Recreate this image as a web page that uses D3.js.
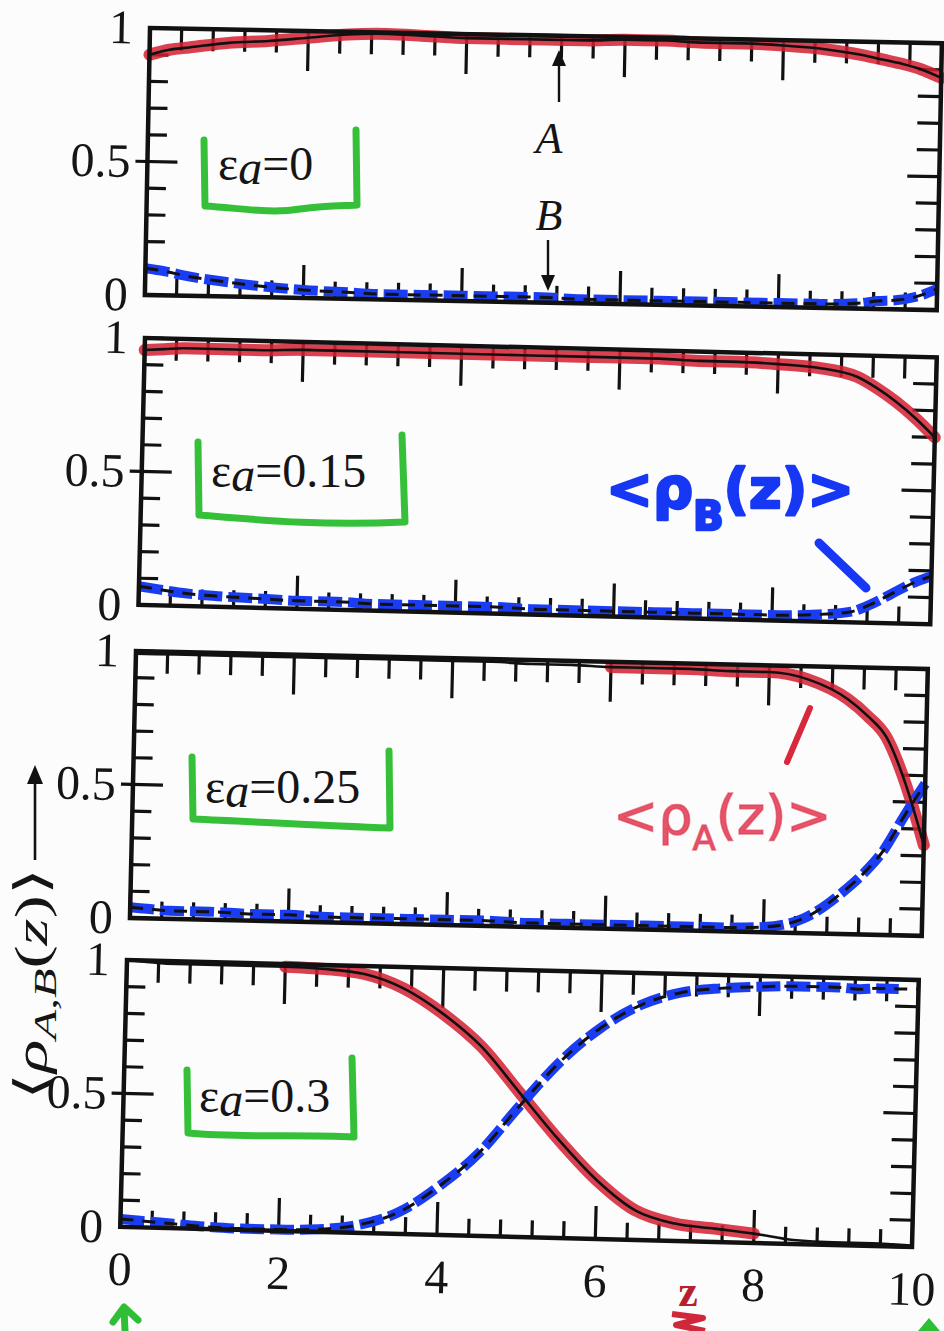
<!DOCTYPE html>
<html>
<head>
<meta charset="utf-8">
<script src="https://cdn.jsdelivr.net/npm/d3@7"></script>
<style>
body { margin: 0; background: #fcfcfd; }
svg { display: block; }
</style>
</head>
<body>
<svg></svg>
<script>
var width = 944, height = 1331;

var zs = [0, 0.25, 0.5, 1, 1.5, 2, 2.5, 3, 3.5, 4, 4.5, 5, 5.5, 6, 6.5, 7, 7.5, 8, 8.5, 9, 9.25, 9.5, 9.75, 10];

// <rho_A(z)> and <rho_B(z)> for each eps_a
var rhoA_0    = [0.90, 0.92, 0.93, 0.95, 0.96, 0.975, 0.99, 0.995, 0.99, 0.985, 0.985, 0.985, 0.985, 0.99, 0.99, 0.985, 0.985, 0.98, 0.97, 0.95, 0.935, 0.92, 0.90, 0.87];
var rhoB_0    = [0.10, 0.09, 0.075, 0.055, 0.04, 0.03, 0.025, 0.02, 0.02, 0.02, 0.02, 0.02, 0.015, 0.015, 0.015, 0.015, 0.015, 0.015, 0.015, 0.02, 0.03, 0.035, 0.05, 0.08];
var rhoA_015  = [0.955, 0.96, 0.965, 0.965, 0.965, 0.97, 0.97, 0.97, 0.97, 0.97, 0.97, 0.97, 0.97, 0.97, 0.97, 0.965, 0.965, 0.96, 0.95, 0.92, 0.88, 0.83, 0.77, 0.70];
var rhoB_015  = [0.07, 0.06, 0.05, 0.04, 0.035, 0.03, 0.03, 0.025, 0.025, 0.025, 0.025, 0.02, 0.02, 0.02, 0.02, 0.02, 0.02, 0.02, 0.025, 0.04, 0.07, 0.11, 0.15, 0.18];
var rhoA_025  = [0.99, 0.99, 0.99, 0.99, 0.99, 0.99, 0.99, 0.99, 0.99, 0.99, 0.99, 0.985, 0.985, 0.98, 0.98, 0.98, 0.975, 0.975, 0.95, 0.88, 0.82, 0.74, 0.57, 0.34];
var rhoB_025  = [0.04, 0.035, 0.03, 0.03, 0.025, 0.025, 0.02, 0.02, 0.02, 0.02, 0.02, 0.015, 0.015, 0.015, 0.015, 0.015, 0.015, 0.02, 0.055, 0.16, 0.23, 0.32, 0.45, 0.57];
var rhoA_03   = [1.0, 0.995, 0.99, 0.99, 0.99, 0.99, 0.985, 0.97, 0.92, 0.83, 0.71, 0.54, 0.37, 0.22, 0.11, 0.065, 0.05, 0.035, 0.015, 0.01, 0.01, 0.01, 0.008, 0.005];
var rhoB_03   = [0.03, 0.025, 0.02, 0.01, 0.005, 0.005, 0.01, 0.03, 0.08, 0.18, 0.31, 0.49, 0.66, 0.79, 0.88, 0.93, 0.95, 0.96, 0.965, 0.965, 0.96, 0.965, 0.965, 0.965];

var epsLabels = ["0", "0.15", "0.25", "0.3"];
var xTickLabels = [0, 2, 4, 6, 8, 10];
var yTickLabels = [0, 0.5, 1];

// z range covered by the coloured (marker) traces
var redStart = [0, 0, 6, 2];
var redEnd = [10, 10, 10, 8];
var blueEnd = [10, 10, 10, 9.75];

// page layout of the four scanned panels (slightly tilted)
var panels = [
	{ a: rhoA_0,   b: rhoB_0,   x: 150, y: 28,  rot: 1.1 },
	{ a: rhoA_015, b: rhoB_015, x: 145, y: 338, rot: 1.4 },
	{ a: rhoA_025, b: rhoB_025, x: 136, y: 651, rot: 1.3 },
	{ a: rhoA_03,  b: rhoB_03,  x: 127, y: 960, rot: 1.45 }
];
var pw = 792, ph = 267;
var serif = "Liberation Serif, Times New Roman, serif";

var svg = d3.select("svg").attr("width", width).attr("height", height)
	.attr("font-family", serif);
svg.append("rect").attr("width", width).attr("height", height).attr("fill", "#fcfcfd");

var xScale = d3.scaleLinear().domain([0, 10]).range([0, pw]);
var yScale = d3.scaleLinear().domain([0, 1]).range([ph, 0]);

var xTicks = d3.range(0, 10.001, 0.4);
var yTicks = d3.range(0, 1.001, 0.1);
var isMajorX = function (v) { return Math.abs(v / 2 - Math.round(v / 2)) < 1e-6; };
var isMajorY = function (v) { return Math.abs(v - 0.5) < 1e-6; };

var line = d3.line()
	.x(function (d) { return xScale(d.z); })
	.y(function (d) { return yScale(d.v); })
	.curve(d3.curveMonotoneX);

panels.forEach(function (p, i) {
	var g = svg.append("g").attr("transform", "translate(" + p.x + "," + p.y + ") rotate(" + p.rot + ")");

	// inward ticks on all four sides
	xTicks.forEach(function (v) {
		var m = isMajorX(v);
		g.append("line").attr("x1", xScale(v)).attr("x2", xScale(v))
			.attr("y1", 0).attr("y2", m ? 40 : 22)
			.attr("stroke", "#111").attr("stroke-width", 3.2);
		g.append("line").attr("x1", xScale(v)).attr("x2", xScale(v))
			.attr("y1", ph).attr("y2", ph - (m ? 33 : 17))
			.attr("stroke", "#111").attr("stroke-width", 3.2);
	});
	yTicks.forEach(function (v) {
		var m = isMajorY(v);
		g.append("line").attr("x1", m ? -12 : 0).attr("x2", m ? 30 : 19)
			.attr("y1", yScale(v)).attr("y2", yScale(v))
			.attr("stroke", "#111").attr("stroke-width", 3.2);
		g.append("line").attr("x1", pw).attr("x2", pw - (m ? 32 : 23))
			.attr("y1", yScale(v)).attr("y2", yScale(v))
			.attr("stroke", "#111").attr("stroke-width", 3.2);
	});

	var aPts = zs.map(function (z, k) { return { z: z, v: p.a[k] }; });
	var bPts = zs.map(function (z, k) { return { z: z, v: p.b[k] }; });

	// marker traces
	g.append("path").datum(aPts.filter(function (d) { return d.z >= redStart[i] && d.z <= redEnd[i]; }))
		.attr("d", line).attr("fill", "none")
		.attr("stroke", "#d41e30").attr("stroke-opacity", 0.85)
		.attr("stroke-width", 12).attr("stroke-linecap", "round");
	g.append("path").datum(bPts.filter(function (d) { return d.z <= blueEnd[i]; }))
		.attr("d", line).attr("fill", "none")
		.attr("stroke", "#1a3cf2").attr("stroke-width", 10)
		.attr("stroke-dasharray", "24,6");

	// printed curves
	g.append("path").datum(aPts).attr("d", line).attr("fill", "none")
		.attr("stroke", "#111").attr("stroke-width", 2.6);
	g.append("path").datum(bPts).attr("d", line).attr("fill", "none")
		.attr("stroke", "#111").attr("stroke-width", 3)
		.attr("stroke-dasharray", "13,9");

	// frame
	g.append("rect").attr("width", pw).attr("height", ph)
		.attr("fill", "none").attr("stroke", "#111").attr("stroke-width", 4.5);

	// y tick labels
	var ya = g.append("g").call(d3.axisLeft(yScale).tickValues(yTickLabels).tickSize(0).tickPadding(17)
		.tickFormat(function (d) { return d === 0.5 ? "0.5" : d3.format("d")(d); }));
	ya.select(".domain").remove();
	ya.attr("font-family", serif);
	ya.selectAll("text").attr("font-size", 48).attr("fill", "#151515");

	if (i === panels.length - 1) {
		var xa = g.append("g").attr("transform", "translate(0," + ph + ")")
			.call(d3.axisBottom(xScale).tickValues(xTickLabels).tickSize(0).tickPadding(24));
		xa.select(".domain").remove();
		xa.attr("font-family", serif);
		xa.selectAll("text").attr("font-size", 48).attr("fill", "#151515");
	}
});

// eps_a labels with green hand-drawn brackets
var epsPos = [[218, 180], [211, 487], [205, 803], [199, 1112]];
var brackets = [
	"M204,140 L205,206 C240,208 270,214 300,209 C330,205 345,206 357,205 L356,130",
	"M198,442 L199,515 C260,520 320,526 405,522 L402,435",
	"M192,757 L193,819 C260,822 330,826 390,828 L389,751",
	"M187,1070 L188,1133 C240,1138 300,1134 354,1137 L352,1058"
];
epsLabels.forEach(function (e, i) {
	var t = svg.append("text").attr("x", epsPos[i][0]).attr("y", epsPos[i][1])
		.attr("font-size", 48).attr("fill", "#151515");
	t.append("tspan").text("ε");
	t.append("tspan").attr("font-style", "italic").attr("dy", 4).text("a");
	t.append("tspan").attr("dy", -4).text("=" + e);
	svg.append("path").attr("d", brackets[i]).attr("fill", "none")
		.attr("stroke", "#36c03a").attr("stroke-width", 7)
		.attr("stroke-linecap", "round").attr("stroke-linejoin", "round");
});

// A / B arrows in the top panel
svg.append("text").attr("x", 549).attr("y", 153).attr("text-anchor", "middle")
	.attr("font-size", 44).attr("font-style", "italic").attr("fill", "#151515").text("A");
svg.append("text").attr("x", 549).attr("y", 230).attr("text-anchor", "middle")
	.attr("font-size", 44).attr("font-style", "italic").attr("fill", "#151515").text("B");
svg.append("line").attr("x1", 559).attr("x2", 559).attr("y1", 102).attr("y2", 62)
	.attr("stroke", "#111").attr("stroke-width", 2.4);
svg.append("path").attr("d", "M552,66 L559,50 L566,66 Z").attr("fill", "#111");
svg.append("line").attr("x1", 548).attr("x2", 548).attr("y1", 240).attr("y2", 278)
	.attr("stroke", "#111").attr("stroke-width", 2.4);
svg.append("path").attr("d", "M541,275 L548,291 L555,275 Z").attr("fill", "#111");

// y axis label with arrow (stretched along its length like the scan)
var ylg = svg.append("g").attr("transform", "translate(47,1100) rotate(-90)");
var yl = ylg.append("text").attr("font-size", 46).attr("fill", "#151515");
yl.append("tspan").text("⟨");
yl.append("tspan").attr("font-style", "italic").text("ρ");
yl.append("tspan").attr("font-style", "italic").attr("font-size", 32).attr("dy", 9).text("A,B");
yl.append("tspan").attr("dy", -9).text("(");
yl.append("tspan").attr("font-style", "italic").text("z");
yl.append("tspan").text(")⟩");
var ylLen = yl.node().getComputedTextLength();
yl.attr("transform", "scale(" + (232 / ylLen) + ",1)");
svg.append("line").attr("x1", 35).attr("x2", 35).attr("y1", 860).attr("y2", 782)
	.attr("stroke", "#111").attr("stroke-width", 2.6);
svg.append("path").attr("d", "M27,784 L35,765 L43,784 Z").attr("fill", "#111");

// handwritten notes
var nb = svg.append("text").attr("x", 606).attr("y", 508)
	.attr("font-family", "DejaVu Sans").attr("font-weight", "bold")
	.attr("font-size", 56).attr("fill", "#1638f4")
	.attr("stroke", "#1638f4").attr("stroke-width", 2.5).attr("stroke-linejoin", "round");
nb.append("tspan").text("<ρ");
nb.append("tspan").attr("font-size", 40).attr("dy", 22).text("B");
nb.append("tspan").attr("dy", -22).text("(z)>");
svg.append("path").attr("d", "M819,543 L866,588").attr("stroke", "#1638f4")
	.attr("stroke-width", 9).attr("stroke-linecap", "round");

var na = svg.append("text").attr("x", 613).attr("y", 834)
	.attr("font-family", "DejaVu Sans").attr("font-size", 54)
	.attr("fill", "#e0364e").attr("fill-opacity", 0.85)
	.attr("stroke", "#e0364e").attr("stroke-opacity", 0.6).attr("stroke-width", 1.5);
na.append("tspan").text("<ρ");
na.append("tspan").attr("font-size", 34).attr("dy", 16).text("A");
na.append("tspan").attr("dy", -16).text("(z)>");
svg.append("path").attr("d", "M810,708 L787,762").attr("stroke", "#d8283e")
	.attr("stroke-width", 6).attr("stroke-linecap", "round");

svg.append("text").attr("x", 688).attr("y", 1306).attr("text-anchor", "middle")
	.attr("font-size", 44).attr("font-weight", "bold").attr("fill", "#b5202c").text("z");
svg.append("path").attr("d", "M672,1314 L703,1318 L676,1325 L705,1331")
	.attr("fill", "none").attr("stroke", "#d0283a").attr("stroke-width", 6).attr("stroke-linejoin", "round");

// green arrow tips at the bottom edge
svg.append("path").attr("d", "M113,1322 L124,1307 L138,1320 M124,1309 L125,1331")
	.attr("fill", "none").attr("stroke", "#2fbf36").attr("stroke-width", 7)
	.attr("stroke-linecap", "round").attr("stroke-linejoin", "round");
svg.append("path").attr("d", "M918,1331 L929,1318 L940,1331 Z").attr("fill", "#2fbf36");
</script>
</body>
</html>
